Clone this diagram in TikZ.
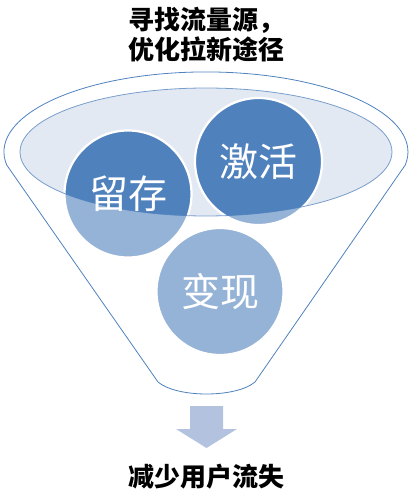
\documentclass[tikz,border=0pt]{standalone}
\usepackage{fontspec}
\newfontfamily\cjk{Noto Sans CJK SC}
\usetikzlibrary{calc}
\definecolor{funnelblue}{HTML}{4F81BD}
\definecolor{balllight}{HTML}{95B3D7}
\definecolor{rimfill}{HTML}{E3E9F3}
\definecolor{arrowfill}{HTML}{B3C3DF}

\begin{document}
\begin{tikzpicture}[x=1pt, y=-1pt, line cap=round, line join=round,
	balltext/.style={font=\cjk\fontsize{39}{39}\selectfont, text=white, inner sep=0pt},
	headtext/.style={font=\cjk\bfseries\fontsize{26}{30}\selectfont, align=center, inner sep=0pt}]
	
	\useasboundingbox (0,0) rectangle (414,500);
	
	%========================
	% Top: goal
	%========================
	\node[headtext] (source) at (206,35) {寻找流量源，\\优化拉新途径};
	
	%========================
	% Funnel body
	%========================
	\coordinate (rim) at (206,152);
	\coordinate (spoutL) at (158,382);
	\coordinate (spoutR) at (255,382);
	% outer outline: back arc of the rim, sides and spout
	\draw[funnelblue, line width=0.8pt]
	(spoutL) -- ($(rim)+(-199.3,13)$)
	arc[start angle=170.6, end angle=369.4, x radius=202, y radius=80]
	-- (spoutR)
	.. controls (236,398) and (177,398) .. (spoutL);
	
	% inner opening
	\fill[rimfill] (rim) ellipse [x radius=186, y radius=64];
	
	%========================
	% Balls
	%========================
	\coordinate (liucunC) at (128,194);
	\coordinate (jihuoC) at (258.5,161.5);
	\coordinate (bianxianC) at (220,291.5);
	
	% light part below the rim
	\foreach \b in {liucunC, jihuoC, bianxianC}
	\fill[balllight] (\b) circle (63.5);
	% dark part inside the rim
	\begin{scope}
		\clip (rim) ellipse [x radius=186, y radius=64];
		\foreach \b in {liucunC, jihuoC, bianxianC}
		\fill[funnelblue] (\b) circle (63.5);
	\end{scope}
	% white edges
	\foreach \b in {liucunC, jihuoC, bianxianC}
	\draw[white, line width=2.2pt] (\b) circle (63.5);
	
	% rim outline on top
	\draw[funnelblue, line width=0.8pt, opacity=0.75] (rim) ellipse [x radius=186, y radius=64];
	
	\node[balltext] (liucun) at (liucunC) {留存};
	\node[balltext] (jihuo) at (jihuoC) {激活};
	\node[balltext] (bianxian) at (bianxianC) {变现};
	
	%========================
	% Bottom: result
	%========================
	\fill[arrowfill] (190,406) -- (223,406) -- (223,429) -- (237,429)
	-- (206.5,448) -- (176,429) -- (190,429) -- cycle;
	\node[headtext] (loss) at (206,477) {减少用户流失};
	
\end{tikzpicture}
\end{document}
